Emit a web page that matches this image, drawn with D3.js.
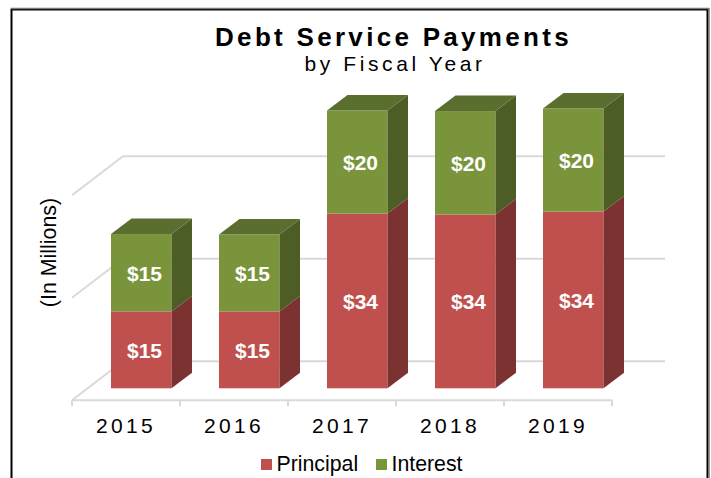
<!DOCTYPE html>
<html>
<head>
<meta charset="utf-8">
<script src="https://cdn.jsdelivr.net/npm/d3@7/dist/d3.min.js"></script>
<style>
html,body{margin:0;padding:0;background:#fff;overflow:hidden}
svg{display:block}
text{font-family:"Liberation Sans",Arial,sans-serif;fill:#000}
</style>
</head>
<body>
<svg id="c" width="711" height="478"></svg>
<script>
const years = ["2015","2016","2017","2018","2019"];
const seriesNames = ["Principal","Interest"];
const principal = [15.0,15.0,34.1,33.9,34.49];
const interest = [15.1,15.0,20.1,20.2,20.1];
const gridTicks = [0,20,40,60];
const titleText = "Debt Service Payments";
const subtitleText = "by Fiscal Year";
const yTitle = "(In Millions)";

const faces = {
  Principal:{front:"#C0504D",side:"#7C3230",top:"#8F3B39"},
  Interest:{front:"#7A943C",side:"#4C5E26",top:"#5A6E2F"}
};
const depthX = 20.5, depthY = 15.5;
const barW = 60.5, barOff = 39;
const svg = d3.select("#c");

// chart frame
svg.append("path").attr("d","M11.5 478V9.5H707.5V478").attr("fill","none").attr("stroke","#000").attr("stroke-width",2);
svg.append("path").attr("d","M11 8.5H709M709 8V478").attr("fill","none").attr("stroke","#777").attr("stroke-width",1.5);

const x = d3.scaleBand().domain(years).range([72,612]);
// y scale gives the floor-front baseline; the wall and the bars are offset from it
const yFront = d3.scaleLinear().domain([0,60]).range([400.3,92.8]);
const wallDX = 51, wallDY = -39;
const barDY = -12;
const y = v => yFront(v) + barDY;

const grid = svg.append("g").attr("fill","none").attr("stroke","#D9D9D9").attr("stroke-width",2);
gridTicks.slice(0,3).forEach(t=>{
  grid.append("path").attr("d",d3.line()([
    [x.range()[0],yFront(t)],
    [x.range()[0]+wallDX,yFront(t)+wallDY],
    [x.range()[1]+wallDX+2,yFront(t)+wallDY]
  ]));
});
// front floor axis and ticks
grid.append("path").attr("d",`M${x.range()[0]} ${yFront(0)}H${x.range()[1]}`);
[...years.map(d=>x(d)),x.range()[1]].forEach(p=>{
  grid.append("path").attr("d",`M${p} ${yFront(0)}v6`);
});

// stacked bars
const stack = d3.stack().keys(seriesNames)(years.map((d,i)=>({year:d,Principal:principal[i],Interest:interest[i]})));
const bars = svg.append("g");
years.forEach((yr,i)=>{
  const x0 = x(yr)+barOff, x1 = x0+barW;
  stack.forEach(s=>{
    const f = faces[s.key];
    const yb = y(s[i][0]), yt = y(s[i][1]);
    bars.append("rect").attr("x",x0).attr("y",yt).attr("width",barW).attr("height",yb-yt).attr("fill",f.front);
    bars.append("path").attr("fill",f.side).attr("d",d3.line()([
      [x1,yt],[x1+depthX,yt-depthY],[x1+depthX,yb-depthY],[x1,yb]
    ])+"Z");
  });
  const topS = stack[stack.length-1];
  const yt = y(topS[i][1]);
  bars.append("path").attr("fill",faces.Interest.top).attr("d",d3.line()([
    [x0,yt],[x0+depthX,yt-depthY],[x1+depthX,yt-depthY],[x1,yt]
  ])+"Z");
  stack.forEach(s=>{
    const v = s[i][1]-s[i][0];
    bars.append("text").attr("x",x0+33.5).attr("y",(y(s[i][0])+y(s[i][1]))/2+8)
      .attr("text-anchor","middle").attr("font-size",21).attr("font-weight","bold")
      .style("fill","#fff").text("$"+d3.format(".0f")(v));
  });
});

// category labels
years.forEach(yr=>{
  svg.append("text").attr("x",x(yr)+x.bandwidth()/2).attr("y",432.5)
    .attr("text-anchor","middle").attr("font-size",21).attr("letter-spacing",3.3).text(yr);
});

// titles
svg.append("text").attr("x",393.5).attr("y",45.5).attr("text-anchor","middle")
  .attr("font-size",26).attr("font-weight","bold").attr("letter-spacing",3.3).text(titleText);
svg.append("text").attr("x",395).attr("y",70.5).attr("text-anchor","middle")
  .attr("font-size",21).attr("letter-spacing",3.6).text(subtitleText);
svg.append("text").attr("transform","translate(56,252.5) rotate(-90)").attr("text-anchor","middle")
  .attr("font-size",21.4).text(yTitle);

// legend
const legendX = {Principal:261,Interest:376};
seriesNames.forEach(n=>{
  svg.append("rect").attr("x",legendX[n]).attr("y",459).attr("width",11).attr("height",11).attr("fill",faces[n].front);
  svg.append("text").attr("x",legendX[n]+15.5).attr("y",470.5).attr("font-size",21.3).text(n);
});
</script>
</body>
</html>
